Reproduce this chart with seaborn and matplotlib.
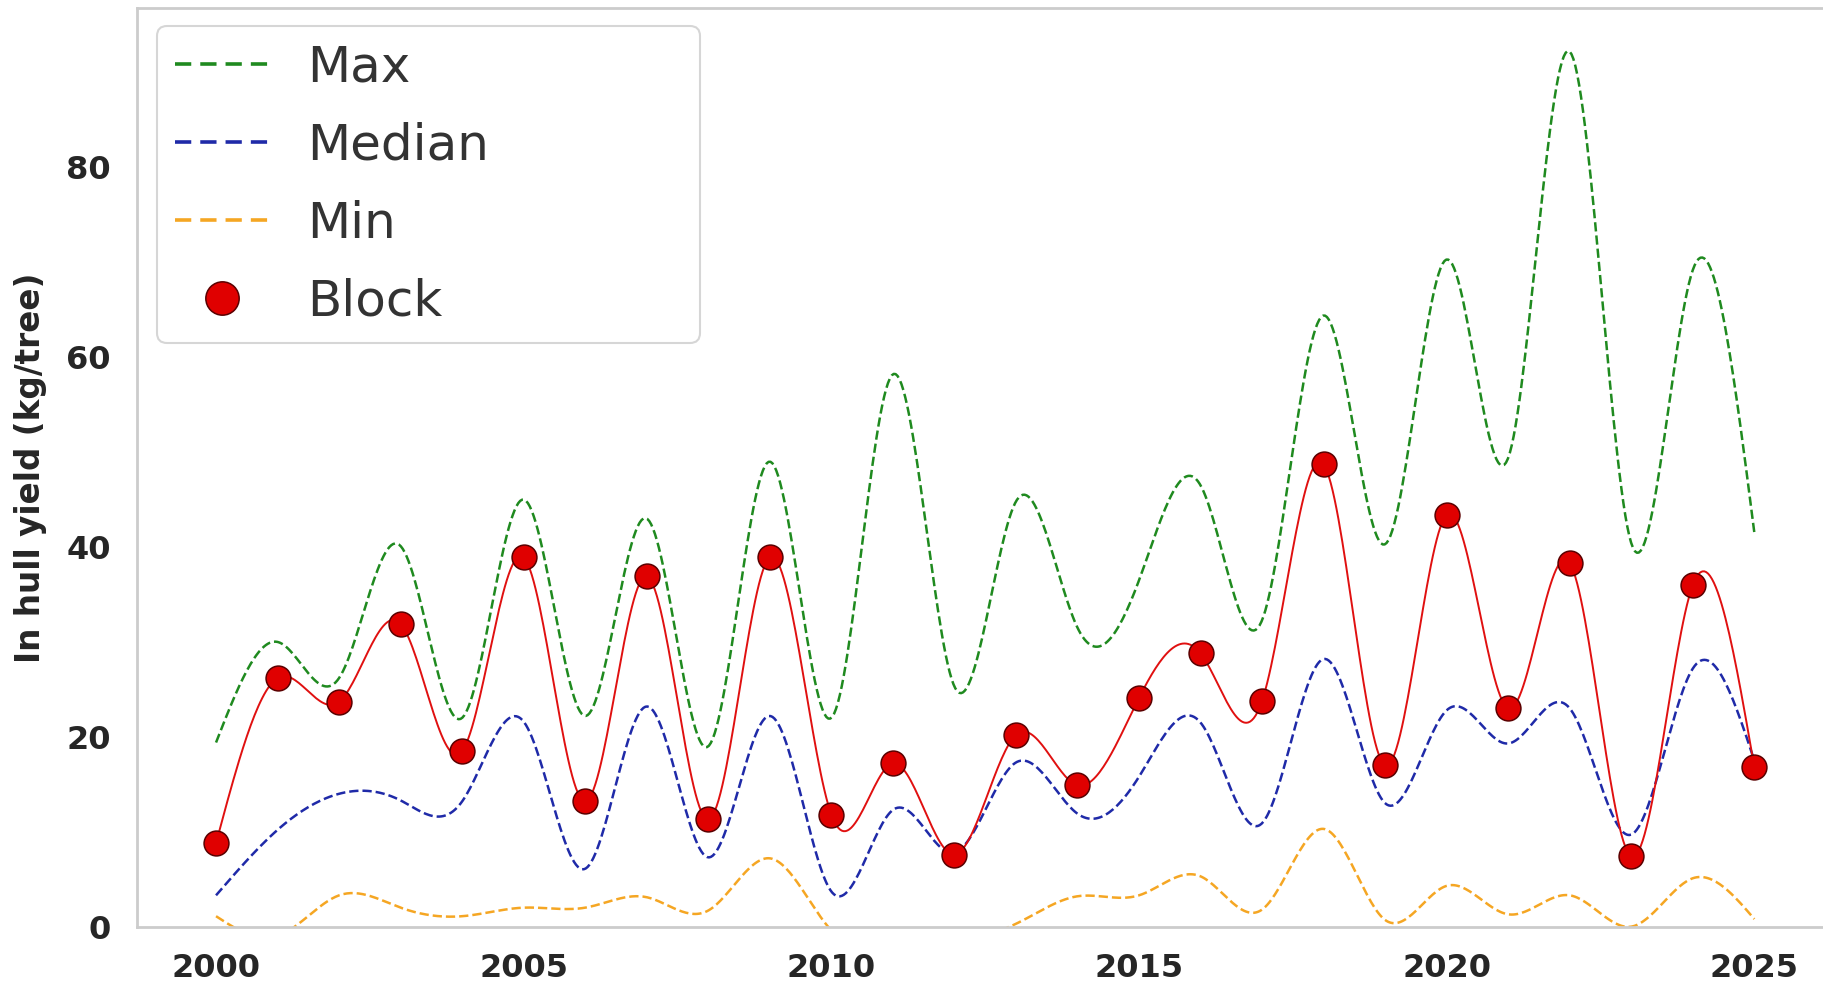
import numpy as np
import pandas as pd
import matplotlib
matplotlib.use("Agg")
import matplotlib.pyplot as plt
import seaborn as sns
from matplotlib.lines import Line2D

# ---------------- data ----------------
years = list(range(2000, 2026))
block = [8.8, 26.2, 23.7, 31.9, 18.5, 38.9, 13.2, 36.9, 11.3, 38.9, 11.8, 17.2,
         7.6, 20.2, 14.9, 24.1, 28.8, 23.8, 48.7, 17.0, 43.4, 23.0, 38.3, 7.4,
         36.0, 16.8]
max_vals = [19.4, 30.0, 26.2, 40.1, 22.0, 45.0, 22.2, 43.0, 19.0, 49.0, 22.0, 58.2,
            25.3, 44.8, 31.5, 36.5, 46.5, 32.3, 64.4, 40.3, 70.3, 49.4, 92.2, 40.4,
            69.2, 41.5]
median_vals = [3.3, 10.2, 14.0, 13.3, 13.2, 21.6, 6.1, 23.2, 7.3, 22.2, 3.7, 12.3,
               7.8, 17.3, 11.9, 15.8, 21.5, 10.9, 28.2, 13.0, 22.8, 19.3, 23.0, 9.7,
               27.2, 17.5]
min_vals = [1.1, -1.0, 3.3, 2.0, 1.1, 2.0, 2.0, 3.1, 1.7, 7.2, -0.4, -2.0,
            -1.5, 0.3, 3.2, 3.3, 5.3, 1.8, 10.3, 0.7, 4.3, 1.3, 3.3, 0.0,
            5.1, 0.8]
x_ticks = [2000, 2005, 2010, 2015, 2020, 2025]
y_ticks = [0, 20, 40, 60, 80]
ylabel = "In hull yield (kg/tree)"
legend_labels = ["Max", "Median", "Min", "Block"]


def natural_spline(x, y, xs):
    """Smooth curve through the yearly values (natural cubic spline)."""
    x = np.asarray(x, float)
    y = np.asarray(y, float)
    n = len(x)
    h = np.diff(x)
    A = np.zeros((n, n))
    r = np.zeros(n)
    A[0, 0] = A[-1, -1] = 1.0
    for i in range(1, n - 1):
        A[i, i - 1] = h[i - 1]
        A[i, i] = 2 * (h[i - 1] + h[i])
        A[i, i + 1] = h[i]
        r[i] = 6 * ((y[i + 1] - y[i]) / h[i] - (y[i] - y[i - 1]) / h[i - 1])
    M = np.linalg.solve(A, r)
    idx = np.clip(np.searchsorted(x, xs) - 1, 0, n - 2)
    x0, x1 = x[idx], x[idx + 1]
    hh = x1 - x0
    a = (x1 - xs) / hh
    b = (xs - x0) / hh
    return a * y[idx] + b * y[idx + 1] + ((a ** 3 - a) * M[idx] + (b ** 3 - b) * M[idx + 1]) * hh ** 2 / 6


sns.set_style("whitegrid")
plt.rcParams["font.family"] = ["DejaVu Sans"]

fig = plt.figure(figsize=(18.23, 9.86), dpi=100)
ax = fig.add_axes([0.0753, 0.0602, 0.9343, 0.9317])

xs = np.linspace(years[0], years[-1], 800)
series = [
    ("Max", max_vals, "#1f8a1f"),
    ("Median", median_vals, "#1f2aa8"),
    ("Min", min_vals, "#f5a623"),
]
handles = []
for name, vals, col in series:
    df = pd.DataFrame({"year": xs, "value": natural_spline(years, vals, xs)})
    sns.lineplot(data=df, x="year", y="value", ax=ax, color=col, linewidth=1.8,
                 linestyle="--", legend=False)
    handles.append(Line2D([0], [0], color=col, linewidth=2.6, linestyle=(0, (4.5, 2.5))))

df_block = pd.DataFrame({"year": xs, "value": natural_spline(years, block, xs)})
sns.lineplot(data=df_block, x="year", y="value", ax=ax, color="#e01010",
             linewidth=1.4, legend=False)
df_pts = pd.DataFrame({"year": years, "value": block})
sns.scatterplot(data=df_pts, x="year", y="value", ax=ax, color="#e00000",
                edgecolor="#5a0000", linewidth=1.1, s=320, zorder=5, legend=False)
handles.append(Line2D([0], [0], linestyle="none", marker="o", markersize=24,
                      markerfacecolor="#e00000", markeredgecolor="#5a0000",
                      markeredgewidth=1.1))

ax.grid(False)
ax.set_xlim(1998.72, 2026.4)
ax.set_ylim(0, 96.8)
ax.set_xticks(x_ticks)
ax.set_yticks(y_ticks)
ax.set_xticklabels([str(t) for t in x_ticks], fontsize=23, fontweight="bold", color="#262626")
ax.set_yticklabels([str(t) for t in y_ticks], fontsize=23, fontweight="bold", color="#262626")
ax.tick_params(axis="both", length=0, pad=19)
ax.set_xlabel("")
ax.set_ylabel(ylabel, fontsize=23.5, fontweight="bold", color="#262626")
ax.yaxis.set_label_coords(-0.053, 0.5)
for sp in ax.spines.values():
    sp.set_color("#cccccc")
    sp.set_linewidth(2)

leg = ax.legend(handles, legend_labels, loc="upper left",
                bbox_to_anchor=(0.0116, 0.640, 0.319, 0.340), mode="expand",
                borderaxespad=0, fontsize=36, frameon=True, fancybox=True,
                handlelength=1.9, handletextpad=0.75, labelspacing=0.6,
                borderpad=0.35)
leg.get_frame().set_edgecolor("#cccccc")
leg.get_frame().set_linewidth(1.5)
for t in leg.get_texts():
    t.set_color("#333333")

fig.savefig("out.png", dpi=100)
